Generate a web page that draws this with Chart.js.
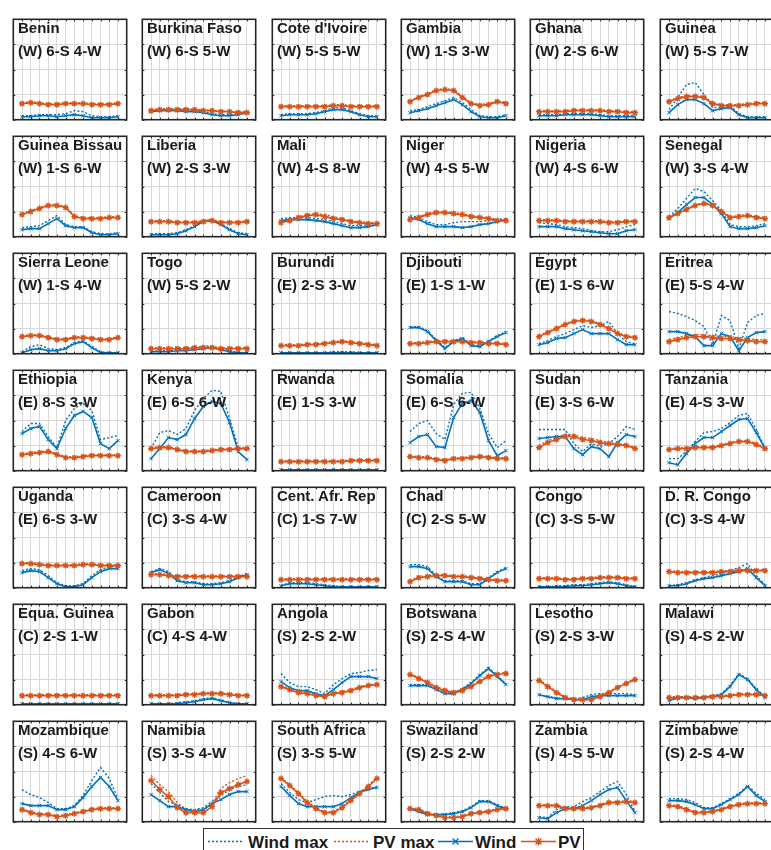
<!DOCTYPE html>
<html>
<head>
<meta charset="utf-8">
<script src="https://cdn.jsdelivr.net/npm/chart.js@4.4.0/dist/chart.umd.min.js"></script>
<style>
    body { margin: 0; width: 771px; height: 850px; overflow: hidden; background: #fff; font-family: "Liberation Sans", Arial, sans-serif; }
    .panel { position: absolute; }
    .panel canvas { position: absolute; left: 0; top: 0; }
    .lbl { position: absolute; font-weight: bold; font-size: 15px; line-height: 15px; color: #1a1a1a; white-space: nowrap; }
    #legend { position: absolute; left: 203px; top: 828px; width: 381px; height: 30px; box-sizing: border-box; border: 1.5px solid #333; background: #fff; }
    #legend svg { position: absolute; left: -1.5px; top: -1.5px; }
</style>
</head>
<body>
<div id="legend"></div>
<script>
const months = [1, 2, 3, 4, 5, 6, 7, 8, 9, 10, 11, 12]

const countries = ["Benin", "Burkina Faso", "Cote d'Ivoire", "Gambia", "Ghana", "Guinea",
    "Guinea Bissau", "Liberia", "Mali", "Niger", "Nigeria", "Senegal",
    "Sierra Leone", "Togo", "Burundi", "Djibouti", "Egypt", "Eritrea",
    "Ethiopia", "Kenya", "Rwanda", "Somalia", "Sudan", "Tanzania",
    "Uganda", "Cameroon", "Cent. Afr. Rep", "Chad", "Congo", "D. R. Congo",
    "Equa. Guinea", "Gabon", "Angola", "Botswana", "Lesotho", "Malawi",
    "Mozambique", "Namibia", "South Africa", "Swaziland", "Zambia", "Zimbabwe"]

const groups = ["(W) 6-S 4-W", "(W) 6-S 5-W", "(W) 5-S 5-W", "(W) 1-S 3-W", "(W) 2-S 6-W", "(W) 5-S 7-W",
    "(W) 1-S 6-W", "(W) 2-S 3-W", "(W) 4-S 8-W", "(W) 4-S 5-W", "(W) 4-S 6-W", "(W) 3-S 4-W",
    "(W) 1-S 4-W", "(W) 5-S 2-W", "(E) 2-S 3-W", "(E) 1-S 1-W", "(E) 1-S 6-W", "(E) 5-S 4-W",
    "(E) 8-S 3-W", "(E) 6-S 6-W", "(E) 1-S 3-W", "(E) 6-S 6-W", "(E) 3-S 6-W", "(E) 4-S 3-W",
    "(E) 6-S 3-W", "(C) 3-S 4-W", "(C) 1-S 7-W", "(C) 2-S 5-W", "(C) 3-S 5-W", "(C) 3-S 4-W",
    "(C) 2-S 1-W", "(C) 4-S 4-W", "(S) 2-S 2-W", "(S) 2-S 4-W", "(S) 2-S 3-W", "(S) 4-S 2-W",
    "(S) 4-S 6-W", "(S) 3-S 4-W", "(S) 3-S 5-W", "(S) 2-S 2-W", "(S) 4-S 5-W", "(S) 2-S 4-W"]

const yTicks = [0, 0.25, 0.5, 0.75, 1]

const windMax = [
    [0.04,0.04,0.05,0.05,0.05,0.06,0.09,0.08,0.04,0.03,0.03,0.04],
    [0.09,0.10,0.10,0.10,0.09,0.09,0.08,0.06,0.05,0.05,0.06,0.08],
    [0.05,0.06,0.06,0.06,0.07,0.09,0.12,0.12,0.09,0.06,0.04,0.04],
    [0.09,0.10,0.13,0.16,0.19,0.22,0.17,0.10,0.04,0.03,0.03,0.05],
    [0.05,0.05,0.05,0.06,0.06,0.06,0.06,0.05,0.04,0.04,0.04,0.04],
    [0.10,0.22,0.35,0.37,0.25,0.12,0.12,0.14,0.06,0.03,0.03,0.03],
    [0.09,0.10,0.11,0.16,0.21,0.12,0.10,0.10,0.05,0.03,0.03,0.04],
    [0.03,0.03,0.03,0.04,0.07,0.11,0.16,0.17,0.13,0.08,0.04,0.03],
    [0.18,0.19,0.19,0.19,0.18,0.17,0.15,0.13,0.11,0.11,0.12,0.14],
    [0.21,0.19,0.15,0.12,0.12,0.14,0.15,0.15,0.15,0.16,0.17,0.18],
    [0.14,0.13,0.12,0.10,0.09,0.08,0.06,0.05,0.05,0.07,0.10,0.12],
    [0.20,0.28,0.38,0.48,0.45,0.36,0.26,0.12,0.10,0.10,0.11,0.13],
    [0.02,0.07,0.09,0.05,0.04,0.06,0.11,0.13,0.07,0.02,0.01,0.01],
    [0.02,0.03,0.03,0.04,0.04,0.05,0.08,0.07,0.05,0.03,0.01,0.01],
    [0.01,0.01,0.01,0.01,0.01,0.01,0.02,0.02,0.02,0.01,0.01,0.01],
    [0.27,0.27,0.23,0.14,0.06,0.13,0.16,0.09,0.08,0.13,0.18,0.22],
    [0.10,0.13,0.17,0.20,0.24,0.28,0.26,0.28,0.32,0.20,0.12,0.10],
    [0.42,0.40,0.37,0.33,0.27,0.09,0.38,0.33,0.05,0.31,0.38,0.40],
    [0.39,0.47,0.47,0.34,0.23,0.50,0.62,0.67,0.60,0.31,0.33,0.35],
    [0.22,0.38,0.40,0.36,0.42,0.60,0.72,0.80,0.79,0.52,0.23,0.20],
    [0.01,0.01,0.01,0.01,0.01,0.01,0.01,0.01,0.01,0.01,0.01,0.01],
    [0.39,0.47,0.50,0.37,0.31,0.66,0.77,0.78,0.62,0.37,0.23,0.30],
    [0.41,0.41,0.41,0.41,0.27,0.19,0.27,0.24,0.27,0.34,0.44,0.41],
    [0.12,0.12,0.19,0.29,0.38,0.39,0.42,0.48,0.55,0.57,0.41,0.23],
    [0.17,0.19,0.18,0.12,0.05,0.02,0.02,0.04,0.12,0.18,0.21,0.21],
    [0.16,0.19,0.16,0.08,0.06,0.06,0.04,0.04,0.05,0.07,0.11,0.14],
    [0.02,0.05,0.05,0.05,0.04,0.03,0.02,0.01,0.01,0.01,0.01,0.01],
    [0.23,0.23,0.21,0.12,0.07,0.07,0.07,0.04,0.04,0.10,0.16,0.20],
    [0.01,0.01,0.02,0.02,0.03,0.03,0.04,0.05,0.06,0.05,0.03,0.01],
    [0.02,0.03,0.05,0.08,0.10,0.12,0.14,0.17,0.20,0.24,0.12,0.03],
    [0.01,0.01,0.01,0.01,0.01,0.01,0.01,0.01,0.01,0.01,0.01,0.01],
    [0.01,0.01,0.01,0.02,0.03,0.04,0.06,0.07,0.05,0.02,0.01,0.01],
    [0.31,0.22,0.18,0.18,0.15,0.11,0.20,0.26,0.31,0.32,0.34,0.35],
    [0.20,0.20,0.20,0.16,0.12,0.12,0.16,0.22,0.30,0.37,0.29,0.21],
    [0.10,0.08,0.07,0.06,0.06,0.07,0.10,0.11,0.11,0.11,0.11,0.10],
    [0.05,0.08,0.08,0.07,0.08,0.09,0.11,0.19,0.31,0.26,0.16,0.08],
    [0.32,0.27,0.24,0.19,0.13,0.13,0.16,0.26,0.41,0.54,0.43,0.23],
    [0.38,0.29,0.20,0.17,0.13,0.12,0.14,0.20,0.26,0.32,0.35,0.37],
    [0.38,0.29,0.22,0.19,0.22,0.25,0.26,0.25,0.27,0.30,0.33,0.35],
    [0.13,0.10,0.08,0.07,0.08,0.09,0.11,0.15,0.21,0.21,0.17,0.13],
    [0.05,0.04,0.12,0.15,0.15,0.20,0.24,0.30,0.36,0.40,0.27,0.10],
    [0.23,0.23,0.22,0.19,0.14,0.14,0.18,0.23,0.28,0.36,0.28,0.22]
]

const pvMax = [
    [0.17,0.18,0.17,0.16,0.16,0.17,0.17,0.17,0.16,0.16,0.16,0.17],
    [0.10,0.11,0.11,0.11,0.11,0.10,0.10,0.09,0.09,0.08,0.08,0.08],
    [0.14,0.14,0.14,0.14,0.14,0.14,0.15,0.15,0.14,0.14,0.14,0.14],
    [0.19,0.23,0.26,0.30,0.31,0.30,0.23,0.17,0.15,0.16,0.19,0.17],
    [0.09,0.09,0.09,0.09,0.10,0.10,0.10,0.10,0.09,0.09,0.08,0.08],
    [0.19,0.22,0.24,0.24,0.23,0.17,0.15,0.15,0.15,0.16,0.17,0.17],
    [0.23,0.26,0.29,0.32,0.32,0.30,0.21,0.19,0.19,0.19,0.20,0.20],
    [0.16,0.16,0.16,0.15,0.15,0.15,0.16,0.17,0.15,0.15,0.15,0.16],
    [0.15,0.17,0.20,0.22,0.23,0.22,0.20,0.18,0.16,0.15,0.14,0.14],
    [0.18,0.20,0.23,0.25,0.25,0.24,0.23,0.21,0.20,0.19,0.17,0.17],
    [0.17,0.17,0.17,0.16,0.16,0.16,0.16,0.16,0.15,0.15,0.16,0.16],
    [0.20,0.24,0.28,0.32,0.34,0.32,0.26,0.20,0.21,0.22,0.20,0.19],
    [0.18,0.19,0.19,0.17,0.15,0.15,0.17,0.17,0.16,0.15,0.15,0.17],
    [0.06,0.06,0.06,0.06,0.06,0.07,0.07,0.07,0.06,0.06,0.06,0.06],
    [0.09,0.09,0.09,0.10,0.10,0.11,0.12,0.13,0.12,0.11,0.10,0.09],
    [0.11,0.11,0.12,0.13,0.13,0.13,0.13,0.12,0.12,0.11,0.11,0.10],
    [0.18,0.22,0.26,0.30,0.33,0.34,0.33,0.30,0.26,0.21,0.18,0.17],
    [0.14,0.16,0.18,0.19,0.19,0.18,0.17,0.17,0.16,0.15,0.14,0.14],
    [0.17,0.18,0.19,0.20,0.17,0.14,0.14,0.15,0.16,0.16,0.16,0.16],
    [0.23,0.24,0.24,0.22,0.20,0.20,0.20,0.21,0.22,0.22,0.23,0.23],
    [0.10,0.10,0.10,0.10,0.10,0.10,0.10,0.10,0.11,0.11,0.11,0.11],
    [0.15,0.14,0.14,0.12,0.11,0.13,0.13,0.14,0.15,0.14,0.13,0.13],
    [0.25,0.30,0.33,0.36,0.36,0.33,0.32,0.30,0.28,0.27,0.26,0.23],
    [0.22,0.23,0.23,0.24,0.24,0.24,0.26,0.28,0.30,0.30,0.27,0.23],
    [0.25,0.25,0.24,0.23,0.23,0.23,0.23,0.24,0.24,0.23,0.23,0.23],
    [0.14,0.14,0.13,0.12,0.12,0.12,0.12,0.12,0.12,0.12,0.12,0.12],
    [0.09,0.09,0.09,0.09,0.09,0.09,0.09,0.09,0.09,0.09,0.09,0.09],
    [0.07,0.11,0.12,0.13,0.13,0.12,0.12,0.11,0.10,0.09,0.08,0.08],
    [0.10,0.10,0.10,0.09,0.09,0.10,0.10,0.11,0.11,0.11,0.10,0.10],
    [0.17,0.16,0.16,0.16,0.16,0.16,0.17,0.17,0.18,0.18,0.18,0.18],
    [0.10,0.10,0.10,0.10,0.10,0.10,0.10,0.10,0.10,0.10,0.10,0.10],
    [0.10,0.10,0.10,0.10,0.11,0.11,0.12,0.12,0.12,0.11,0.10,0.10],
    [0.19,0.16,0.13,0.12,0.10,0.09,0.12,0.13,0.15,0.18,0.20,0.21],
    [0.31,0.27,0.23,0.18,0.15,0.13,0.15,0.19,0.24,0.29,0.31,0.32],
    [0.25,0.19,0.13,0.08,0.06,0.06,0.06,0.09,0.13,0.18,0.22,0.26],
    [0.08,0.08,0.08,0.08,0.08,0.09,0.09,0.10,0.11,0.11,0.11,0.10],
    [0.13,0.10,0.08,0.08,0.06,0.07,0.09,0.11,0.13,0.14,0.14,0.14],
    [0.46,0.37,0.30,0.19,0.12,0.12,0.12,0.18,0.33,0.39,0.43,0.46],
    [0.44,0.37,0.29,0.20,0.14,0.10,0.10,0.15,0.22,0.29,0.36,0.44],
    [0.14,0.13,0.09,0.07,0.05,0.05,0.06,0.09,0.10,0.11,0.13,0.14],
    [0.17,0.17,0.17,0.14,0.14,0.14,0.15,0.17,0.20,0.20,0.21,0.20],
    [0.17,0.16,0.13,0.10,0.10,0.11,0.13,0.16,0.18,0.19,0.19,0.19]
]

const wind = [
    [0.03,0.03,0.04,0.04,0.03,0.04,0.05,0.04,0.02,0.02,0.02,0.03],
    [0.08,0.09,0.09,0.09,0.08,0.08,0.07,0.05,0.04,0.04,0.05,0.07],
    [0.04,0.05,0.05,0.05,0.06,0.08,0.10,0.10,0.08,0.05,0.03,0.03],
    [0.07,0.09,0.11,0.14,0.17,0.20,0.15,0.08,0.03,0.02,0.02,0.04],
    [0.04,0.04,0.04,0.05,0.05,0.05,0.05,0.04,0.03,0.03,0.03,0.03],
    [0.07,0.15,0.20,0.20,0.16,0.09,0.11,0.12,0.05,0.02,0.02,0.02],
    [0.07,0.08,0.08,0.13,0.18,0.11,0.09,0.09,0.04,0.02,0.02,0.03],
    [0.02,0.02,0.02,0.03,0.06,0.10,0.15,0.16,0.12,0.07,0.03,0.02],
    [0.16,0.17,0.17,0.17,0.16,0.15,0.13,0.11,0.09,0.09,0.10,0.12],
    [0.19,0.17,0.13,0.10,0.10,0.10,0.09,0.10,0.12,0.13,0.15,0.17],
    [0.10,0.10,0.10,0.08,0.07,0.06,0.05,0.04,0.03,0.03,0.06,0.07],
    [0.18,0.24,0.32,0.39,0.39,0.32,0.23,0.10,0.08,0.08,0.09,0.11],
    [0.01,0.04,0.05,0.03,0.03,0.05,0.10,0.12,0.06,0.01,0.01,0.01],
    [0.02,0.02,0.02,0.03,0.03,0.04,0.05,0.06,0.04,0.02,0.01,0.01],
    [0.01,0.01,0.01,0.01,0.01,0.01,0.01,0.01,0.01,0.01,0.01,0.01],
    [0.26,0.26,0.22,0.13,0.05,0.12,0.15,0.08,0.07,0.12,0.17,0.21],
    [0.09,0.11,0.15,0.16,0.20,0.24,0.20,0.20,0.20,0.14,0.09,0.09],
    [0.22,0.22,0.20,0.17,0.08,0.08,0.20,0.17,0.03,0.16,0.21,0.22],
    [0.37,0.42,0.44,0.31,0.22,0.42,0.55,0.59,0.53,0.27,0.22,0.30],
    [0.12,0.22,0.33,0.31,0.36,0.52,0.64,0.69,0.67,0.48,0.19,0.11],
    [0.01,0.01,0.01,0.01,0.01,0.01,0.01,0.01,0.01,0.01,0.01,0.01],
    [0.28,0.34,0.36,0.24,0.23,0.53,0.67,0.70,0.58,0.30,0.15,0.20],
    [0.32,0.33,0.34,0.34,0.22,0.16,0.24,0.22,0.14,0.28,0.36,0.34],
    [0.08,0.06,0.17,0.27,0.33,0.33,0.39,0.45,0.51,0.52,0.38,0.22],
    [0.15,0.17,0.16,0.10,0.04,0.01,0.01,0.03,0.10,0.16,0.19,0.19],
    [0.15,0.18,0.14,0.07,0.05,0.05,0.03,0.03,0.04,0.06,0.10,0.13],
    [0.02,0.04,0.04,0.04,0.03,0.02,0.01,0.01,0.01,0.01,0.01,0.01],
    [0.21,0.21,0.19,0.11,0.06,0.06,0.06,0.03,0.03,0.09,0.15,0.19],
    [0.01,0.01,0.01,0.01,0.02,0.02,0.03,0.04,0.05,0.04,0.02,0.01],
    [0.02,0.02,0.04,0.07,0.09,0.10,0.12,0.14,0.16,0.19,0.10,0.02],
    [0.01,0.01,0.01,0.01,0.01,0.01,0.01,0.01,0.01,0.01,0.01,0.01],
    [0.01,0.01,0.01,0.01,0.02,0.03,0.05,0.06,0.04,0.02,0.01,0.01],
    [0.23,0.17,0.14,0.14,0.11,0.09,0.15,0.22,0.28,0.28,0.28,0.26],
    [0.19,0.19,0.19,0.15,0.11,0.11,0.15,0.21,0.29,0.36,0.28,0.20],
    [0.10,0.08,0.06,0.06,0.05,0.05,0.08,0.09,0.09,0.09,0.09,0.09],
    [0.04,0.07,0.07,0.06,0.07,0.08,0.10,0.18,0.30,0.25,0.15,0.07],
    [0.18,0.16,0.16,0.16,0.12,0.12,0.15,0.24,0.35,0.44,0.35,0.21],
    [0.27,0.21,0.15,0.15,0.12,0.10,0.12,0.18,0.22,0.27,0.30,0.30],
    [0.35,0.26,0.18,0.15,0.15,0.15,0.15,0.18,0.24,0.29,0.32,0.34],
    [0.13,0.10,0.07,0.07,0.07,0.08,0.10,0.14,0.20,0.20,0.16,0.13],
    [0.04,0.03,0.09,0.13,0.13,0.16,0.21,0.27,0.32,0.34,0.21,0.09],
    [0.21,0.21,0.20,0.17,0.13,0.13,0.17,0.22,0.27,0.35,0.26,0.20]
]

const pv = [
    [0.16,0.17,0.16,0.15,0.15,0.16,0.16,0.16,0.15,0.15,0.15,0.16],
    [0.09,0.10,0.10,0.10,0.10,0.10,0.09,0.09,0.08,0.08,0.07,0.07],
    [0.13,0.13,0.13,0.13,0.13,0.13,0.14,0.14,0.13,0.13,0.13,0.13],
    [0.18,0.22,0.25,0.29,0.30,0.29,0.22,0.16,0.14,0.15,0.18,0.16],
    [0.08,0.08,0.08,0.08,0.09,0.09,0.09,0.09,0.08,0.08,0.07,0.07],
    [0.18,0.21,0.23,0.23,0.22,0.16,0.14,0.14,0.14,0.15,0.16,0.16],
    [0.22,0.25,0.28,0.31,0.31,0.29,0.20,0.18,0.18,0.18,0.19,0.19],
    [0.15,0.15,0.15,0.14,0.14,0.14,0.15,0.16,0.14,0.14,0.14,0.15],
    [0.14,0.16,0.19,0.21,0.22,0.20,0.18,0.17,0.15,0.14,0.13,0.13],
    [0.17,0.19,0.22,0.24,0.24,0.23,0.22,0.20,0.19,0.18,0.16,0.16],
    [0.16,0.16,0.16,0.15,0.15,0.15,0.15,0.15,0.14,0.14,0.15,0.15],
    [0.19,0.23,0.27,0.31,0.33,0.31,0.25,0.19,0.20,0.21,0.19,0.18],
    [0.17,0.18,0.18,0.16,0.14,0.14,0.16,0.16,0.15,0.14,0.14,0.16],
    [0.05,0.05,0.05,0.05,0.05,0.06,0.06,0.06,0.05,0.05,0.05,0.05],
    [0.08,0.08,0.08,0.09,0.09,0.10,0.11,0.12,0.11,0.10,0.09,0.08],
    [0.10,0.10,0.11,0.12,0.12,0.12,0.12,0.11,0.11,0.10,0.10,0.09],
    [0.17,0.21,0.25,0.29,0.32,0.33,0.32,0.29,0.25,0.20,0.17,0.16],
    [0.12,0.14,0.16,0.17,0.17,0.16,0.15,0.15,0.14,0.13,0.12,0.12],
    [0.16,0.17,0.18,0.19,0.16,0.13,0.13,0.14,0.15,0.15,0.15,0.15],
    [0.22,0.23,0.23,0.21,0.19,0.19,0.19,0.20,0.21,0.21,0.22,0.22],
    [0.09,0.09,0.09,0.09,0.09,0.09,0.09,0.09,0.10,0.10,0.10,0.10],
    [0.14,0.13,0.13,0.11,0.10,0.12,0.12,0.13,0.14,0.13,0.12,0.12],
    [0.23,0.28,0.31,0.34,0.34,0.31,0.30,0.28,0.27,0.26,0.25,0.22],
    [0.21,0.22,0.22,0.23,0.23,0.23,0.25,0.27,0.29,0.29,0.26,0.22],
    [0.24,0.24,0.23,0.22,0.22,0.22,0.22,0.23,0.23,0.22,0.22,0.22],
    [0.13,0.13,0.12,0.11,0.11,0.11,0.11,0.11,0.11,0.11,0.11,0.11],
    [0.08,0.08,0.08,0.08,0.08,0.08,0.08,0.08,0.08,0.08,0.08,0.08],
    [0.06,0.10,0.11,0.12,0.12,0.11,0.11,0.10,0.09,0.08,0.07,0.07],
    [0.09,0.09,0.09,0.08,0.08,0.09,0.09,0.10,0.10,0.10,0.09,0.09],
    [0.16,0.15,0.15,0.15,0.15,0.15,0.16,0.16,0.17,0.17,0.17,0.17],
    [0.09,0.09,0.09,0.09,0.09,0.09,0.09,0.09,0.09,0.09,0.09,0.09],
    [0.09,0.09,0.09,0.09,0.10,0.10,0.11,0.11,0.11,0.10,0.09,0.09],
    [0.18,0.15,0.12,0.11,0.09,0.08,0.11,0.12,0.14,0.17,0.19,0.20],
    [0.30,0.26,0.22,0.17,0.14,0.12,0.14,0.18,0.23,0.28,0.30,0.31],
    [0.24,0.18,0.12,0.07,0.05,0.05,0.05,0.08,0.12,0.17,0.21,0.25],
    [0.07,0.07,0.07,0.07,0.07,0.08,0.08,0.09,0.10,0.10,0.10,0.09],
    [0.12,0.09,0.07,0.07,0.05,0.06,0.08,0.10,0.12,0.13,0.13,0.13],
    [0.41,0.32,0.25,0.14,0.09,0.09,0.09,0.15,0.29,0.33,0.37,0.40],
    [0.43,0.36,0.28,0.19,0.13,0.09,0.09,0.14,0.21,0.28,0.35,0.43],
    [0.13,0.12,0.08,0.06,0.04,0.04,0.05,0.08,0.09,0.10,0.12,0.13],
    [0.16,0.16,0.16,0.13,0.13,0.13,0.14,0.16,0.19,0.19,0.20,0.19],
    [0.16,0.15,0.12,0.09,0.09,0.10,0.12,0.15,0.17,0.18,0.18,0.18]
]

const BLUE = '#0072BD'
const ORANGE = '#D95319'
const GRID = '#d8d8d8'
const FRAME = '#262626'

// frame box + small inward ticks, like the matlab axes
const framePlugin = {
    id: 'frame',
    afterDraw(chart) {
        const { ctx, chartArea: a, scales: { x, y } } = chart
        ctx.save()
        ctx.strokeStyle = FRAME
        ctx.lineWidth = 1
        ctx.beginPath()
        months.forEach(m => {
            const px = Math.round(x.getPixelForValue(m)) + 0.5
            ctx.moveTo(px, a.bottom); ctx.lineTo(px, a.bottom - 2)
            ctx.moveTo(px, a.top); ctx.lineTo(px, a.top + 2)
        })
        yTicks.forEach(v => {
            const py = Math.round(y.getPixelForValue(v)) + 0.5
            ctx.moveTo(a.left, py); ctx.lineTo(a.left + 2, py)
            ctx.moveTo(a.right, py); ctx.lineTo(a.right - 2, py)
        })
        ctx.stroke()
        ctx.lineWidth = 1.6
        ctx.strokeRect(a.left, a.top, a.right - a.left, a.bottom - a.top)
        ctx.restore()
    }
}

const toPoints = arr => months.map((m, k) => ({ x: m, y: arr[k] }))

const makePanel = (i) => {
    const col = i % 6
    const row = Math.floor(i / 6)
    const left = Math.round(9 + col * 129.3)
    const top = 15 + row * 117

    const box = document.createElement('div')
    box.className = 'panel'
    box.style.left = (left - 1) + 'px'
    box.style.top = (top - 1) + 'px'
    const canvas = document.createElement('canvas')
    canvas.width = 124
    canvas.height = 111
    box.appendChild(canvas)
    document.body.appendChild(box)

    const name = document.createElement('div')
    name.className = 'lbl'
    name.style.left = (left + 9) + 'px'
    name.style.top = (top + 5) + 'px'
    name.textContent = countries[i]
    document.body.appendChild(name)

    const sub = document.createElement('div')
    sub.className = 'lbl'
    sub.style.left = (left + 9) + 'px'
    sub.style.top = (top + 28) + 'px'
    sub.textContent = groups[i]
    document.body.appendChild(sub)

    new Chart(canvas.getContext('2d'), {
        type: 'line',
        data: {
            datasets: [
                { label: 'PV', data: toPoints(pv[i]), borderColor: ORANGE, backgroundColor: ORANGE, borderWidth: 1.6,
                  pointStyle: 'star', pointRadius: 3, pointBorderWidth: 1.3, order: 0 },
                { label: 'Wind', data: toPoints(wind[i]), borderColor: BLUE, backgroundColor: BLUE, borderWidth: 1.6,
                  pointStyle: 'crossRot', pointRadius: 2.5, pointBorderWidth: 1, order: 1 },
                { label: 'PV max', data: toPoints(pvMax[i]), borderColor: ORANGE, borderWidth: 1.4, borderDash: [2, 2],
                  pointRadius: 0, order: 2 },
                { label: 'Wind max', data: toPoints(windMax[i]), borderColor: BLUE, borderWidth: 1.4, borderDash: [2, 2],
                  pointRadius: 0, order: 3 }
            ]
        },
        options: {
            responsive: false,
            animation: false,
            events: [],
            layout: { padding: 1 },
            plugins: { legend: { display: false }, tooltip: { enabled: false } },
            scales: {
                x: {
                    type: 'linear', min: 0, max: 13,
                    ticks: { display: false, stepSize: 1 },
                    grid: { color: GRID, drawTicks: false },
                    border: { display: false }
                },
                y: {
                    min: 0, max: 1,
                    ticks: { display: false, stepSize: 0.25 },
                    grid: { color: GRID, drawTicks: false },
                    border: { display: false }
                }
            }
        },
        plugins: [framePlugin]
    })
}

countries.forEach((c, i) => makePanel(i))

// legend, drawn once at the bottom
const legendItems = [
    { text: 'Wind max', color: BLUE, dash: '2,2', marker: null, x0: 5, tx: 45 },
    { text: 'PV max', color: ORANGE, dash: '2,2', marker: null, x0: 131, tx: 170 },
    { text: 'Wind', color: BLUE, dash: null, marker: 'x', x0: 235, tx: 272 },
    { text: 'PV', color: ORANGE, dash: null, marker: '*', x0: 318, tx: 355 }
]
const NS = 'http://www.w3.org/2000/svg'
const svg = document.createElementNS(NS, 'svg')
svg.setAttribute('width', 381)
svg.setAttribute('height', 30)
legendItems.forEach(it => {
    const ly = 13.5
    const line = document.createElementNS(NS, 'line')
    line.setAttribute('x1', it.x0); line.setAttribute('x2', it.x0 + 35)
    line.setAttribute('y1', ly); line.setAttribute('y2', ly)
    line.setAttribute('stroke', it.color)
    line.setAttribute('stroke-width', 1.6)
    if (it.dash) line.setAttribute('stroke-dasharray', it.dash)
    svg.appendChild(line)
    const cx = it.x0 + 17.5
    if (it.marker) {
        const r = 3
        const path = document.createElementNS(NS, 'path')
        let d = `M${cx - r},${ly - r}L${cx + r},${ly + r}M${cx - r},${ly + r}L${cx + r},${ly - r}`
        if (it.marker === '*') d += `M${cx - r - 1},${ly}L${cx + r + 1},${ly}M${cx},${ly - r - 1}L${cx},${ly + r + 1}`
        path.setAttribute('d', d)
        path.setAttribute('stroke', it.color)
        path.setAttribute('stroke-width', 1.3)
        svg.appendChild(path)
    }
    const t = document.createElementNS(NS, 'text')
    t.setAttribute('x', it.tx)
    t.setAttribute('y', 19.5)
    t.setAttribute('font-family', 'Liberation Sans, Arial, sans-serif')
    t.setAttribute('font-size', 17)
    t.setAttribute('font-weight', 'bold')
    t.setAttribute('fill', '#1a1a1a')
    t.textContent = it.text
    svg.appendChild(t)
})
document.getElementById('legend').appendChild(svg)
</script>
</body>
</html>
